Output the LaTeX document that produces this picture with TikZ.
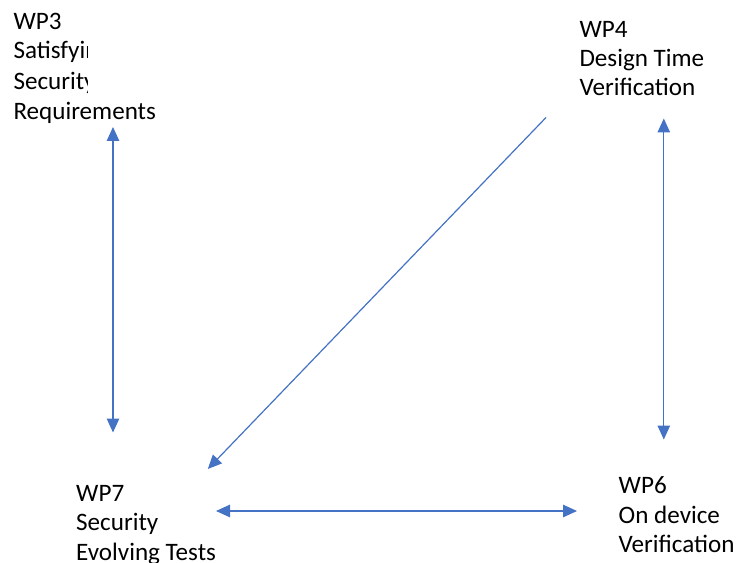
\documentclass[tikz,border=0pt]{standalone}
\usepackage{fontspec}
\setmainfont{Carlito}
\usetikzlibrary{arrows.meta}
\definecolor{linkblue}{HTML}{4472C4}
% a line of text cut off at a given width
\newcommand{\cutline}[2]{\tikz[baseline=0pt]{\clip (0,-8bp) rectangle (#1,22bp);
  \node[anchor=base west,inner sep=0pt,outer sep=0pt] at (0,0) {#2};}}
\begin{document}
\begin{tikzpicture}[x=1bp,y=-1bp,
  label/.style={anchor=north west,align=left,inner sep=0pt,outer sep=0pt,
    font=\fontsize{25.1bp}{29.4bp}\selectfont},
  link/.style={draw=linkblue,line width=1.2bp},
  tip/.style={-{Triangle[length=14bp,width=12.5bp]}},
  tips/.style={{Triangle[length=14bp,width=12.5bp]}-{Triangle[length=14bp,width=12.5bp]}}]
\useasboundingbox (0,0) rectangle (737,563);
\clip (0,0) rectangle (737,563);

% work package labels
\node[label] (wp3) at (13.5,13)
  {WP3\\\cutline{73.5bp}{Satisfying}\\\cutline{73.5bp}{Security}\\Requirements};
\node[label] (wp4) at (579.5,21) {WP4\\Design Time\\Verification};
\node[label] (wp7) at (76.2,485.3) {WP7\\Security\\Evolving Tests};
\node[label] (wp6) at (618.7,477) {WP6\\On device\\Verification};

% connector ends
\coordinate (wp3s) at (113,127);
\coordinate (wp7n) at (113,432.5);
\coordinate (wp4s) at (663.8,118.5);
\coordinate (wp6n) at (663.8,439.5);
\coordinate (wp4w) at (546,117.5);
\coordinate (wp7ne) at (207.8,469);
\coordinate (wp7e) at (216,511);
\coordinate (wp6w) at (577,511);

% links between work packages
\draw[link,tips] (wp3s) -- (wp7n);
\draw[link,tips] (wp4s) -- (wp6n);
\draw[link,tip] (wp4w) -- (wp7ne);
\draw[link,tips] (wp7e) -- (wp6w);
\end{tikzpicture}
\end{document}
